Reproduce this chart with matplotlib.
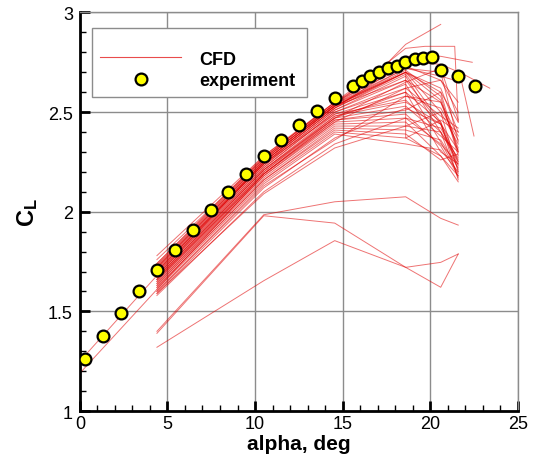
"""
Lift curve: CFD runs against the experiment.
"""

import matplotlib
matplotlib.use('Agg')
from matplotlib import pyplot as plt
from matplotlib.patches import Rectangle
from matplotlib.ticker import MultipleLocator

plt.rcParams['font.family'] = 'Liberation Sans'
plt.rcParams['mathtext.fontset'] = 'custom'
plt.rcParams['mathtext.bf'] = 'Liberation Sans:bold'
plt.rcParams['mathtext.rm'] = 'Liberation Sans'

# experiment
exp_alpha = [0.29, 1.31, 2.34, 3.35, 4.38, 5.41, 6.44, 7.47, 8.48, 9.47,
             10.50, 11.49, 12.51, 13.54, 14.55, 15.57, 16.08, 16.59, 17.09,
             17.60, 18.08, 18.59, 19.11, 19.60, 20.10, 20.59, 21.57, 22.57]
exp_cl = [1.262, 1.376, 1.492, 1.601, 1.706, 1.809, 1.908, 2.007, 2.100, 2.189,
          2.281, 2.358, 2.435, 2.507, 2.572, 2.629, 2.656, 2.679, 2.702,
          2.721, 2.730, 2.753, 2.765, 2.773, 2.775, 2.711, 2.682, 2.632]

# CFD runs: most share the same angles
cfd_alpha = [4.4, 10.5, 14.55, 18.6, 20.6, 21.6]
cfd_runs = [
    [1.72, 2.26, 2.54, 2.72, 2.70, 2.35],
    [1.71, 2.25, 2.53, 2.71, 2.58, 2.28],
    [1.70, 2.25, 2.53, 2.70, 2.50, 2.20],
    [1.70, 2.24, 2.52, 2.69, 2.45, 2.16],
    [1.69, 2.24, 2.52, 2.70, 2.62, 2.40],
    [1.69, 2.23, 2.51, 2.68, 2.40, 2.25],
    [1.68, 2.23, 2.51, 2.66, 2.55, 2.32],
    [1.68, 2.22, 2.50, 2.64, 2.35, 2.19],
    [1.67, 2.22, 2.50, 2.62, 2.48, 2.42],
    [1.67, 2.21, 2.49, 2.60, 2.30, 2.24],
    [1.66, 2.21, 2.48, 2.58, 2.52, 2.36],
    [1.66, 2.20, 2.48, 2.55, 2.44, 2.21],
    [1.65, 2.20, 2.47, 2.53, 2.38, 2.30],
    [1.65, 2.19, 2.46, 2.51, 2.60, 2.45],
    [1.64, 2.19, 2.46, 2.49, 2.33, 2.18],
    [1.64, 2.18, 2.45, 2.47, 2.42, 2.26],
    [1.63, 2.18, 2.44, 2.45, 2.28, 2.15],
    [1.63, 2.17, 2.43, 2.43, 2.50, 2.34],
    [1.62, 2.16, 2.42, 2.41, 2.36, 2.22],
    [1.62, 2.16, 2.41, 2.39, 2.26, 2.29],
    [1.61, 2.15, 2.40, 2.37, 2.46, 2.40],
    [1.60, 2.14, 2.39, 2.34, 2.31, 2.20],
    [1.66, 2.19, 2.45, 2.62, 2.66, 2.50],
    [1.67, 2.21, 2.47, 2.65, 2.72, 2.46],
    [1.71, 2.24, 2.49, 2.56, 2.40, 2.27],
    [1.59, 2.12, 2.37, 2.52, 2.44, 2.31],
    [1.58, 2.10, 2.34, 2.47, 2.34, 2.24],
    [1.60, 2.13, 2.36, 2.58, 2.55, 2.38],
    [1.59, 2.09, 2.32, 2.43, 2.40, 2.17],
    [1.74, 2.27, 2.55, 2.73, 2.66, 2.55],
    [1.78, 2.28, 2.54, 2.70, 2.56, 2.30],
    [1.76, 2.27, 2.53, 2.66, 2.44, 2.23],
    [1.39, 1.98, 1.943, 1.721, 1.621, 1.788],
    [1.32, 1.654, 1.855, 1.721, 1.746, 1.788],
    [1.40, 1.985, 2.05, 2.075, 1.967, 1.933],
]

# runs with their own angles
extra_alpha = [
    [0.0, 4.4, 10.5, 14.55, 18.6, 20.6, 21.6],
    [0.0, 4.4, 10.5, 14.55, 18.6, 20.6, 21.6],
    [4.4, 10.5, 14.55, 18.6, 18.6, 20.6, 21.6],
    [4.4, 10.5, 14.55, 16.6, 18.6, 20.6],
    [4.4, 10.5, 14.55, 16.6, 18.6, 19.7, 21.4, 21.6],
    [4.4, 10.5, 14.55, 16.6, 18.6, 20.6, 22.4],
    [4.4, 10.5, 14.55, 18.6, 20.6, 21.9, 23.4],
    [4.4, 10.5, 14.55, 18.6, 20.6, 21.8, 22.5],
]
extra_cl = [
    [1.25, 1.68, 2.25, 2.53, 2.70, 2.60, 2.30],
    [1.19, 1.61, 2.19, 2.47, 2.60, 2.45, 2.25],
    [1.70, 2.24, 2.52, 2.75, 2.37, 2.28, 2.18],
    [1.74, 2.28, 2.55, 2.66, 2.84, 2.94],
    [1.73, 2.27, 2.55, 2.68, 2.82, 2.83, 2.83, 2.45],
    [1.72, 2.26, 2.54, 2.67, 2.78, 2.78, 2.75],
    [1.73, 2.26, 2.54, 2.75, 2.74, 2.69, 2.62],
    [1.72, 2.25, 2.53, 2.72, 2.68, 2.65, 2.38],
]

fig = plt.figure(figsize=(5.36, 4.64), dpi=100)
ax = fig.add_axes([0.149, 0.112, 0.817, 0.859])

line_kw = dict(color='#e00000', lw=0.7, alpha=0.55, zorder=2)
for cl in cfd_runs:
    ax.plot(cfd_alpha, cl, **line_kw)
for a, cl in zip(extra_alpha, extra_cl):
    ax.plot(a, cl, **line_kw)
# one proxy for the legend
ax.plot([], [], color='#e00000', lw=0.8, alpha=0.7, label='CFD')

ax.plot(exp_alpha, exp_cl, 'o', ms=8.5, mfc='#ffff00', mec='black', mew=1.6,
        zorder=5, label='experiment')

ax.set_xlim(0, 25)
ax.set_ylim(1, 3)
ax.xaxis.set_major_locator(MultipleLocator(5))
ax.xaxis.set_minor_locator(MultipleLocator(1))
ax.yaxis.set_major_locator(MultipleLocator(0.5))
ax.yaxis.set_minor_locator(MultipleLocator(0.1))
ax.set_yticks([1, 1.5, 2, 2.5, 3], ['1', '1.5', '2', '2.5', '3'])

ax.grid(True, which='major', color='#8c8c8c', lw=1.0, zorder=0)
ax.set_axisbelow(True)
ax.tick_params(which='major', direction='in', length=7, width=2, labelsize=13,
               top=False, right=False)
ax.tick_params(which='minor', direction='in', length=4, width=1,
               top=False, right=False)
ax.tick_params(axis='x', pad=3)
ax.tick_params(axis='y', pad=5)
for side in ['left', 'bottom']:
    ax.spines[side].set_linewidth(2)
    ax.spines[side].set_color('black')
for side in ['top', 'right']:
    ax.spines[side].set_linewidth(1)
    ax.spines[side].set_color('#8c8c8c')

ax.set_xlabel('alpha, deg', fontsize=15, fontweight='bold', labelpad=1)
ax.set_ylabel(r'$\mathbf{C_L}$', fontsize=17, labelpad=6)

# legend box drawn by hand, entries without frame
ax.add_patch(Rectangle((0.027, 0.788), 0.491, 0.173, transform=ax.transAxes,
                       facecolor='white', edgecolor='#8c8c8c', lw=1, zorder=6))
leg = ax.legend(loc='upper left', bbox_to_anchor=(0.030, 0.922), borderaxespad=0,
                handlelength=4.5, handletextpad=1.0, borderpad=0.4,
                labelspacing=0.25, frameon=False,
                prop={'size': 13, 'weight': 'bold'})
leg.set_zorder(7)

plt.savefig('out.png', dpi=100)
